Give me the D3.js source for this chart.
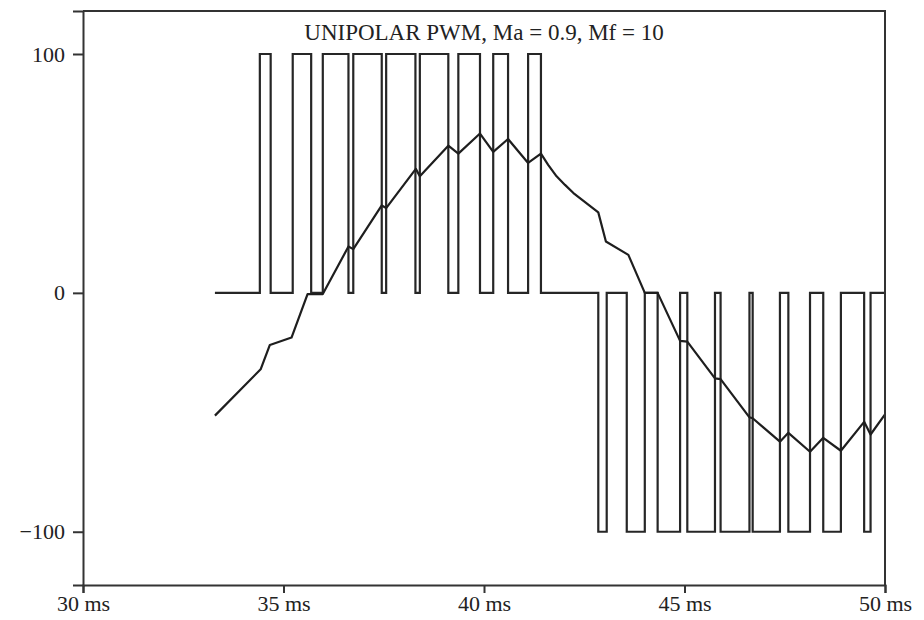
<!DOCTYPE html>
<html lang="en">
<head>
<meta charset="UTF-8">
<title>Unipolar PWM</title>
<script src="https://d3js.org/d3.v7.min.js"></script>
<style>
  body { margin: 0; background: #fff; }
  svg text { font-family: "Liberation Serif", "Times New Roman", serif; fill: #222; }
</style>
</head>
<body>
<svg id="chart" width="924" height="620"></svg>
<script>
// --- data (time in ms, values in %) ---
var titleText = "UNIPOLAR PWM, Ma = 0.9, Mf = 10";
var xTicks = [30, 35, 40, 45, 50];
var yTicks = [-100, 0, 100];

var pwmStart = 33.29, pwmEnd = 50;
var pwmLevel = 100;
// positive half: [rise, fall]
var posPulses = [[34.41, 34.68], [35.23, 35.69], [35.98, 36.62], [36.74, 37.45],
                 [37.56, 38.29], [38.40, 39.11], [39.36, 39.90], [40.23, 40.60], [41.10, 41.42]];
// negative half: [down, up]
var negPulses = [[42.85, 43.06], [43.56, 44.01], [44.33, 44.89], [45.07, 45.76],
                 [45.90, 46.62], [46.70, 47.38], [47.59, 48.13], [48.46, 48.90], [49.48, 49.64]];

// filtered output
var outT = [33.29, 34.43, 34.66, 35.20, 35.60, 35.98, 36.62, 36.74, 37.45, 37.56, 38.30, 38.40,
            39.11, 39.36, 39.90, 40.23, 40.60, 41.10, 41.42, 41.60, 41.81, 42.02, 42.23, 42.85,
            43.04, 43.60, 44.01, 44.33, 44.89, 45.07, 45.76, 45.90, 46.62, 46.70, 47.38, 47.59,
            48.13, 48.46, 48.90, 49.48, 49.64, 50.00];
var outV = [-51.4, -32.0, -21.8, -18.7, -0.5, -0.5, 19.4, 18.3, 36.6, 35.5, 51.9, 48.8,
            61.6, 58.3, 66.7, 59.0, 64.4, 54.4, 58.3, 53.6, 48.8, 45.2, 41.8, 33.7,
            21.5, 15.9, 0, 0, -20.1, -20.4, -35.8, -36.1, -52.1, -52.5, -62.3, -58.6,
            -66.5, -60.7, -66.1, -54.0, -59.3, -50.9];

// --- layout ---
var margin = {top: 11, right: 39, bottom: 35, left: 83};
var svg = d3.select("#chart");
var W = +svg.attr("width") - margin.left - margin.right;
var H = +svg.attr("height") - margin.top - margin.bottom;
var g = svg.append("g").attr("transform", "translate(" + margin.left + "," + margin.top + ")");

var x = d3.scaleLinear().domain([30, 50]).range([0, W]);
var y = d3.scaleLinear().domain([-122.3, 118]).range([H, 0]);

// build step waveform points
var pwmPts = [[pwmStart, 0]];
posPulses.forEach(function (p) {
    pwmPts.push([p[0], 0], [p[0], pwmLevel], [p[1], pwmLevel], [p[1], 0]);
});
negPulses.forEach(function (p) {
    pwmPts.push([p[0], 0], [p[0], -pwmLevel], [p[1], -pwmLevel], [p[1], 0]);
});
pwmPts.push([pwmEnd, 0]);

var outPts = outT.map(function (t, i) { return [t, outV[i]]; });

var line = d3.line().x(function (d) { return x(d[0]); }).y(function (d) { return y(d[1]); });

g.append("path").datum(pwmPts)
    .attr("d", line)
    .attr("fill", "none").attr("stroke", "#262626").attr("stroke-width", 2.2)
    .attr("stroke-linejoin", "miter");

g.append("path").datum(outPts)
    .attr("d", line)
    .attr("fill", "none").attr("stroke", "#1e1e1e").attr("stroke-width", 2.2)
    .attr("stroke-linejoin", "round");

// frame (top / right)
g.append("path")
    .attr("d", "M0,0H" + W + "V" + H)
    .attr("fill", "none").attr("stroke", "#333").attr("stroke-width", 2);

// axes
var xAxis = g.append("g").attr("transform", "translate(0," + H + ")")
    .call(d3.axisBottom(x).tickValues(xTicks).tickSize(8).tickPadding(2)
        .tickFormat(function (d) { return d + " ms"; }));
var yAxis = g.append("g")
    .call(d3.axisLeft(y).tickValues(yTicks).tickSize(10).tickPadding(8)
        .tickFormat(function (d) { return d < 0 ? "\u2212" + Math.abs(d) : d; }));

[xAxis, yAxis].forEach(function (a) {
    a.select(".domain").attr("stroke", "#333").attr("stroke-width", 2);
    a.selectAll(".tick line").attr("stroke", "#333").attr("stroke-width", 2);
    a.selectAll(".tick text").attr("font-size", 22)
        .attr("font-family", "Liberation Serif, Times New Roman, serif").style("fill", "#222");
});

// title
g.append("text")
    .attr("x", x(40)).attr("y", 29)
    .attr("text-anchor", "middle")
    .attr("font-size", 23)
    .text(titleText);
</script>
</body>
</html>
